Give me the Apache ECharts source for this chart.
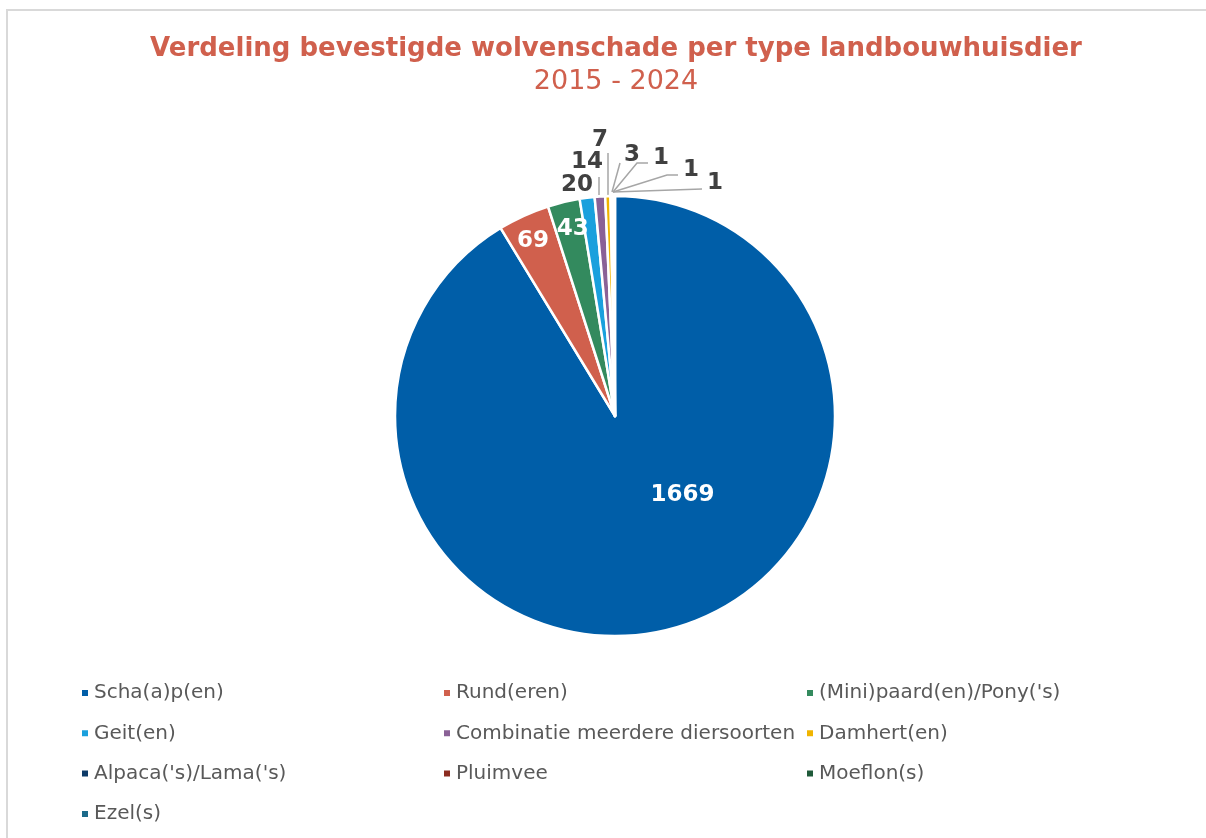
<!DOCTYPE html>
<html>
<head>
<meta charset="utf-8">
<script src="https://cdn.jsdelivr.net/npm/echarts@6/dist/echarts.min.js"></script>
<style>
  html, body { margin: 0; padding: 0; background: #fff; overflow: hidden; }
  #frame { position: absolute; left: 6px; top: 9px; width: 1300px; height: 900px;
           border-left: 2px solid #d9d9d9; border-top: 2px solid #d9d9d9; }
  #chart { position: absolute; left: 0; top: 0; width: 1206px; height: 838px; }
</style>
</head>
<body>
<div id="frame"></div>
<div id="chart"></div>
<script>
  // categories and counts, 2015 - 2024
  var categories = ['Scha(a)p(en)', 'Rund(eren)', '(Mini)paard(en)/Pony(\'s)', 'Geit(en)',
    'Combinatie meerdere diersoorten', 'Damhert(en)', 'Alpaca(\'s)/Lama(\'s)', 'Pluimvee',
    'Moeflon(s)', 'Ezel(s)'];
  var values = [1669, 69, 43, 20, 14, 7, 3, 1, 1, 1];
  var colors = ['#005ea8', '#d0604d', '#338a5e', '#1aa0dd', '#8a6196', '#f0b400',
    '#0d3a68', '#8c2c20', '#1f5a3a', '#1b6a8a'];

  // legend columns like the original layout
  var legendCols = [
    ['Scha(a)p(en)', 'Geit(en)', 'Alpaca(\'s)/Lama(\'s)', 'Ezel(s)'],
    ['Rund(eren)', 'Combinatie meerdere diersoorten', 'Pluimvee'],
    ['(Mini)paard(en)/Pony(\'s)', 'Damhert(en)', 'Moeflon(s)']
  ];
  var legendLeft = [75, 437, 800];

  var font = 'DejaVu Sans, Verdana, sans-serif';
  var pieCenter = [615, 416];

  var chart = echarts.init(document.getElementById('chart'));

  // big slices: label inside, nudged like excel does
  var insideOffsets = {0: [37, -30], 1: [-35, -72], 2: [-16, -77]};

  // small slices: label spot and leader line, relative to the pie center
  var outsideSpots = {
    3: {label: [-38, -231], line: null},
    4: {label: [-28, -254], line: [[-16, -221], [-16, -239]]},
    5: {label: [-15, -276], line: [[-7, -221], [-7, -263]]},
    6: {label: [17, -261], line: [[-3, -224], [5, -253]]},
    7: {label: [46, -258], line: [[-2, -224], [22, -253], [33, -253]]},
    8: {label: [76, -246], line: [[-2, -224], [52, -241], [63, -241]]},
    9: {label: [100, -233], line: [[-2, -224], [87, -227]]}
  };

  var pieData = categories.map(function (name, i) {
    var item = {name: name, value: values[i], itemStyle: {color: colors[i]}};
    if (insideOffsets[i]) {
      item.label = {position: 'inside', color: '#fff', offset: insideOffsets[i]};
      item.labelLine = {show: false};
    }
    if (outsideSpots[i] && !outsideSpots[i].line) {
      item.labelLine = {show: false};
    }
    return item;
  });

  var legends = legendCols.map(function (col, c) {
    return {
      data: col,
      orient: 'vertical',
      left: legendLeft[c],
      top: 678,
      icon: 'rect',
      itemWidth: 8,
      itemHeight: 8,
      itemGap: 20.3,
      textStyle: {fontFamily: font, fontSize: 20, color: '#595959', lineHeight: 20}
    };
  });

  function place(p) {
    return [pieCenter[0] + p[0], pieCenter[1] + p[1]];
  }

  chart.setOption({
    animation: false,
    color: colors,
    title: [{
      text: 'Verdeling bevestigde wolvenschade per type landbouwhuisdier',
      left: 611, top: 31, textAlign: 'center',
      textStyle: {fontFamily: font, fontSize: 26, fontWeight: 'bold', color: '#d0604d'}
    }, {
      text: '2015 - 2024',
      left: 611, top: 63, textAlign: 'center',
      textStyle: {fontFamily: font, fontSize: 27, fontWeight: 'normal', color: '#d0604d'}
    }],
    legend: legends,
    series: [{
      type: 'pie',
      center: pieCenter,
      radius: 220,
      startAngle: 90,
      clockwise: true,
      avoidLabelOverlap: false,
      itemStyle: {borderColor: '#fff', borderWidth: 2.5},
      label: {
        show: true,
        position: 'outside',
        formatter: '{c}',
        fontFamily: font,
        fontSize: 23,
        fontWeight: 'bold',
        color: '#404040'
      },
      labelLine: {show: true, lineStyle: {color: '#a6a6a6', width: 1.5}},
      labelLayout: function (params) {
        var spot = outsideSpots[params.dataIndex];
        if (!spot) {
          return {};
        }
        var pos = place(spot.label);
        var out = {x: pos[0], y: pos[1], align: 'center', verticalAlign: 'middle'};
        if (spot.line) {
          var pts = spot.line.map(place);
          if (pts.length === 2) {
            pts.push(pts[1]);
          }
          out.labelLinePoints = pts;
        }
        return out;
      },
      data: pieData
    }]
  });
</script>
</body>
</html>
